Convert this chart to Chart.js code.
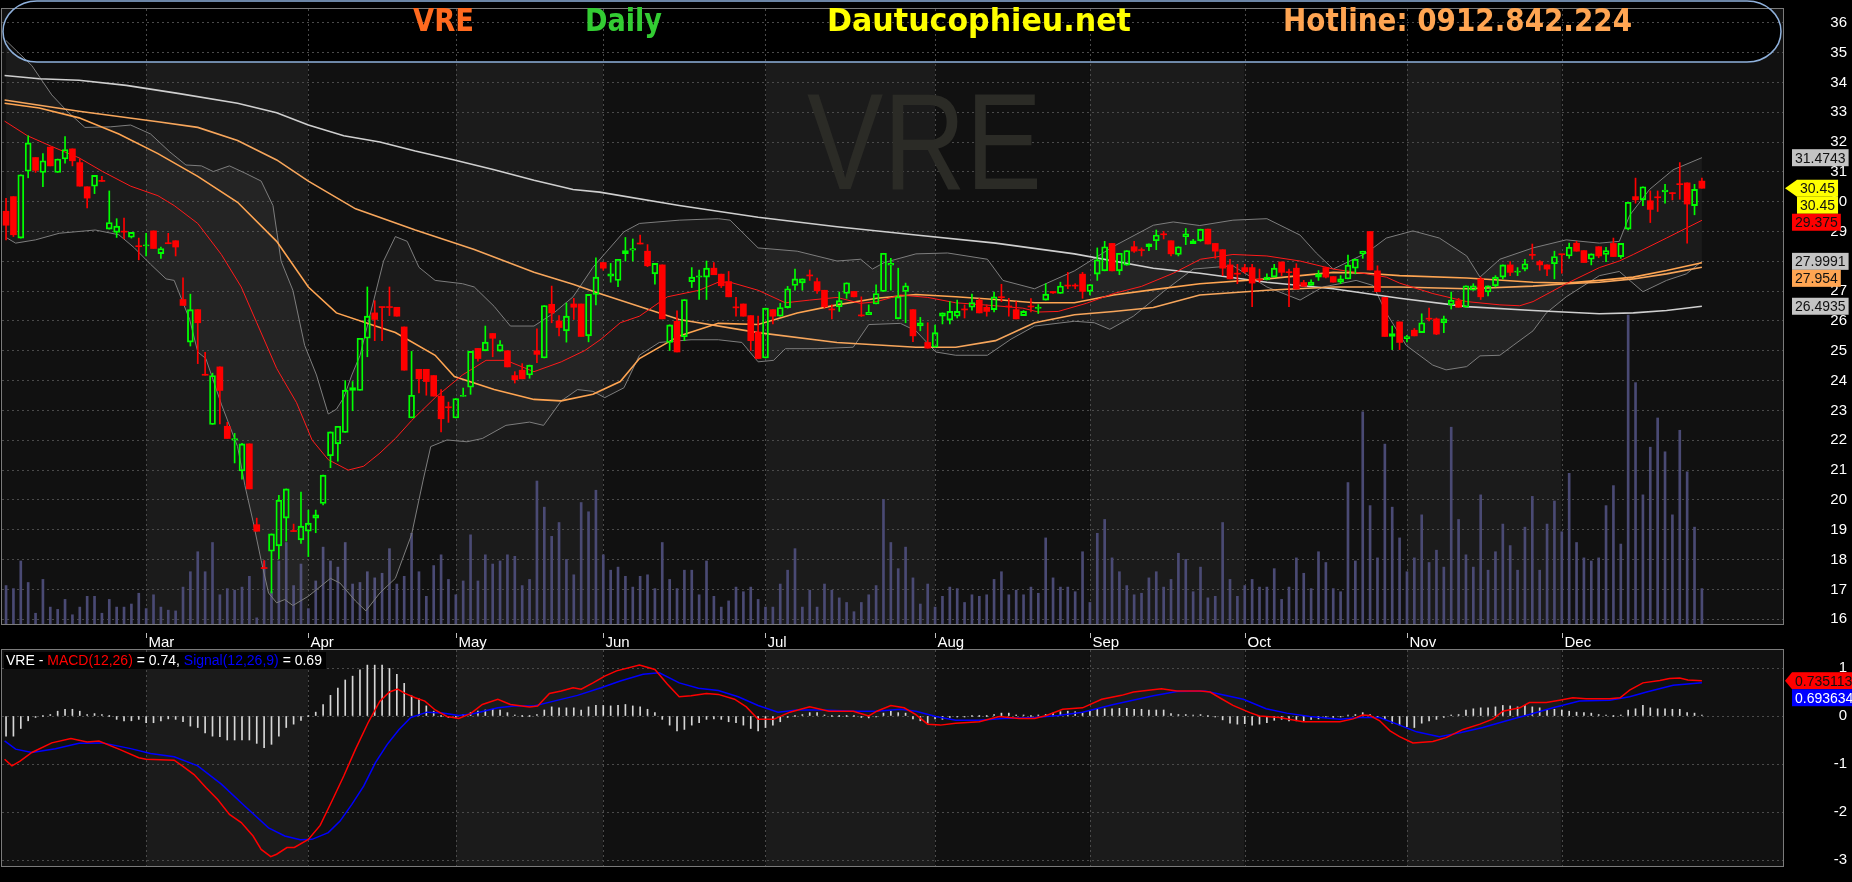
<!DOCTYPE html>
<html lang="vi">
<head>
<meta charset="UTF-8">
<meta name="viewport" content="width=device-width, initial-scale=1.0">
<title>VRE Daily</title>
<script src="https://cdn.jsdelivr.net/npm/chart.js"></script>
<style>
  html, body { margin: 0; padding: 0; background: #000; overflow: hidden; }
  #wrap { position: relative; width: 1852px; height: 882px; }
  canvas { position: absolute; left: 0; }
  #priceChart { top: 0; }
  #macdChart { top: 633px; }
</style>
</head>
<body>
<div id="wrap">
  <canvas id="priceChart" width="1852" height="633"></canvas>
  <canvas id="macdChart" width="1852" height="249"></canvas>
</div>
<script>
// VRE daily, Feb - Dec 2020. One entry per session, index 0 = first session shown.
const monthNames = ['Feb', 'Mar', 'Apr', 'May', 'Jun', 'Jul', 'Aug', 'Sep', 'Oct', 'Nov', 'Dec'];
const monthStart = [0, 19, 41, 61, 81, 103, 126, 147, 168, 190, 211];

const opens = [
  29.68,30.17,28.78,31.02,31.48,30.98,31.83,30.98,31.43,31.77,
  31.31,30.5,30.52,30.7,29.08,28.97,29.0,28.81,28.51,28.52,
  29.02,28.26,28.61,28.69,26.72,25.29,26.38,24.2,22.53,24.46,
  22.47,22.0,20.97,21.88,19.17,17.72,18.28,18.46,19.39,18.96,
  18.66,18.95,19.39,19.88,21.48,21.88,22.26,23.67,23.67,25.42,
  26.27,26.47,26.47,26.46,25.8,22.75,24.38,24.38,24.17,23.48,
  23.11,22.75,23.47,23.78,25.08,25.0,25.58,24.99,25.0,24.17,
  24.35,24.19,25.0,24.76,26.56,26.0,25.67,26.57,26.57,25.5,
  26.89,27.96,27.5,27.36,28.26,28.37,28.6,28.34,27.58,27.88,
  25.28,25.99,25.47,27.32,27.47,27.47,27.77,27.57,27.32,26.46,
  26.57,26.18,25.63,24.76,26.38,26.16,26.45,27.19,27.28,27.53,
  27.32,27.03,26.39,26.48,26.92,26.99,26.19,26.21,26.57,26.99,
  27.87,26.07,26.99,26.38,25.83,25.28,25.12,26.16,26.03,26.16,
  26.39,26.46,26.7,26.46,26.38,26.8,26.49,26.38,26.18,26.49,
  26.42,26.7,26.99,26.92,27.19,27.19,27.57,26.99,27.57,27.68,
  28.6,27.68,27.87,28.49,28.38,28.49,28.69,28.91,28.69,28.23,
  28.83,28.59,28.69,29.08,28.6,28.39,27.88,27.59,27.79,27.79,
  27.39,27.38,27.47,27.98,27.64,27.77,27.29,27.19,27.47,27.79,
  27.49,27.3,27.41,27.77,28.25,29.0,27.68,26.79,25.48,25.97,
  25.41,25.69,25.61,26.08,26.07,25.94,26.54,26.68,26.46,27.03,
  27.41,26.97,27.18,27.47,27.88,27.64,27.74,28.22,27.99,27.88,
  27.92,28.24,28.18,28.61,28.36,28.07,28.49,28.23,28.6,28.16,
  29.08,30.17,30.06,30.03,30.15,30.33,30.29,30.59,30.63,29.87,
  30.69
];
const highs = [
  30.11,30.17,30.9,32.21,31.48,31.61,31.83,31.43,32.18,31.77,
  31.44,30.5,30.88,30.85,30.36,29.43,29.45,28.97,28.78,28.94,
  29.02,28.48,28.94,28.69,27.45,26.9,26.38,24.95,24.25,24.46,
  22.6,22.23,21.9,21.88,19.39,17.97,18.86,20.15,20.37,19.19,
  20.26,19.66,19.66,20.83,22.28,22.47,24.0,23.97,25.42,27.14,
  26.68,26.47,27.14,26.46,25.8,24.98,24.38,24.38,24.17,23.7,
  23.28,23.4,23.75,24.98,25.08,25.83,25.58,25.34,25.0,24.3,
  24.57,24.52,25.74,26.52,27.17,26.18,26.6,26.76,26.57,26.89,
  28.12,27.96,27.93,28.07,28.8,28.75,28.88,28.56,27.93,27.88,
  25.87,26.34,26.72,27.79,27.71,28.01,27.96,27.57,27.66,26.79,
  26.57,26.18,26.16,26.43,26.38,26.59,27.16,27.74,27.41,27.71,
  27.44,27.03,26.54,26.97,27.28,26.99,26.81,26.54,27.21,28.27,
  28.1,27.77,27.27,26.38,26.12,25.94,25.86,26.27,26.65,26.7,
  26.54,26.9,26.75,26.54,26.97,27.23,26.76,26.65,26.35,26.75,
  26.55,27.25,26.99,27.3,27.63,27.25,27.63,27.22,28.45,28.67,
  28.6,28.27,28.36,28.67,28.45,28.59,29.05,29.0,28.69,28.49,
  29.1,28.74,29.08,29.08,28.6,28.39,28.07,27.9,27.9,27.9,
  27.74,27.58,27.9,27.98,27.74,27.92,27.36,27.38,27.69,27.81,
  27.49,27.52,28.21,28.07,28.34,29.0,27.85,26.79,25.83,25.97,
  25.52,25.75,26.24,26.43,26.1,26.16,26.97,26.76,27.18,27.25,
  27.47,27.18,27.52,27.88,27.99,27.79,28.07,28.58,28.03,27.88,
  28.34,28.24,28.61,28.67,28.36,28.25,28.49,28.47,28.78,28.6,
  29.98,30.79,30.5,30.36,30.36,30.58,30.3,31.31,30.63,30.58,
  30.79
];
const lows = [
  28.72,28.83,28.78,30.8,30.98,30.5,31.2,30.98,31.29,31.2,
  30.52,29.79,30.27,30.68,29.08,28.8,28.76,28.78,28.05,28.18,
  28.43,28.1,28.59,28.18,26.52,25.16,24.57,24.18,22.53,22.55,
  22.06,21.24,20.7,20.37,18.95,17.7,16.88,18.02,18.62,18.94,
  18.54,18.1,18.9,19.83,21.08,21.3,22.26,22.99,23.67,24.8,
  25.34,25.34,26.18,26.16,24.35,22.75,23.59,23.51,23.48,22.28,
  22.6,22.75,23.47,23.54,24.65,25.0,24.8,24.99,24.46,23.92,
  24.06,24.08,24.6,24.76,25.94,25.5,25.29,26.05,25.48,25.3,
  26.54,27.7,27.3,27.15,28.01,28.01,28.58,27.82,27.23,26.07,
  25.01,24.96,25.34,27.12,26.72,26.72,27.55,27.12,26.81,26.16,
  26.16,25.01,24.74,24.76,25.9,26.16,26.43,27.03,27.03,27.36,
  26.92,26.43,26.07,26.32,26.76,26.81,26.15,26.21,26.57,26.99,
  27.03,26.07,25.94,25.31,25.67,25.09,25.12,25.9,25.9,26.1,
  26.1,26.36,26.27,26.16,26.3,26.65,26.16,26.07,26.18,26.3,
  26.25,26.7,26.92,26.92,27.08,27.08,26.76,26.87,27.36,27.68,
  27.68,27.55,27.87,28.3,28.18,28.36,28.39,28.75,28.18,28.18,
  28.56,28.59,28.67,28.58,28.1,27.52,27.41,27.25,27.6,26.48,
  27.3,27.38,27.47,27.52,26.48,27.07,27.16,27.19,27.36,27.44,
  27.3,27.25,27.41,27.58,28.1,27.71,26.98,25.48,25.04,25.04,
  25.3,25.5,25.61,26.0,25.54,25.61,26.4,26.46,26.46,27.03,
  26.72,26.84,27.14,27.41,27.52,27.52,27.68,28.07,27.7,27.52,
  27.41,27.6,28.1,28.34,27.96,27.88,28.12,27.99,28.16,28.1,
  29.05,29.95,29.87,29.3,29.67,29.95,30.06,30.08,28.61,29.56,
  30.45
];
const closes = [
  29.21,28.89,30.9,31.97,31.05,31.37,31.2,31.43,31.75,31.37,
  30.52,30.12,30.88,30.68,29.3,29.18,28.98,28.97,28.49,28.54,
  28.43,28.43,28.59,28.48,26.52,26.38,25.94,24.18,24.17,23.67,
  22.06,22.06,21.88,20.37,18.95,17.7,18.86,19.99,20.37,18.94,
  19.12,19.22,19.5,20.83,22.28,22.47,23.68,23.77,25.42,26.16,
  26.05,26.45,26.45,26.16,24.35,23.51,24.06,23.97,23.48,22.72,
  23.09,23.4,23.51,24.98,24.74,25.29,25.42,25.21,24.46,24.03,
  24.06,24.52,24.88,26.52,26.27,25.78,26.16,26.46,25.48,26.89,
  27.47,27.77,27.58,28.07,28.36,28.43,28.58,27.85,27.93,26.07,
  25.87,24.96,26.72,27.47,27.51,27.77,27.55,27.18,26.81,26.44,
  26.16,25.34,24.74,26.43,26.16,26.45,27.08,27.41,27.41,27.51,
  27.01,26.48,26.37,26.68,27.28,26.81,26.17,26.29,26.92,28.27,
  27.93,26.81,27.18,25.5,25.94,25.09,25.61,26.27,26.32,26.32,
  26.37,26.62,26.27,26.32,26.81,26.78,26.47,26.07,26.32,26.47,
  26.46,26.9,26.94,27.17,27.17,27.17,26.99,27.22,28.05,28.49,
  27.68,28.27,28.36,28.34,28.36,28.59,28.88,28.89,28.25,28.49,
  28.92,28.69,29.08,28.58,28.34,27.77,27.41,27.57,27.65,27.27,
  27.37,27.47,27.77,27.63,27.62,27.07,27.16,27.3,27.58,27.47,
  27.3,27.41,27.87,28.07,28.34,27.71,26.98,25.48,25.58,25.28,
  25.48,25.5,25.94,26.06,25.56,26.07,26.7,26.46,27.18,27.18,
  26.81,27.18,27.47,27.88,27.63,27.66,27.92,28.2,27.88,27.74,
  28.16,28.22,28.47,28.34,27.96,28.25,28.18,28.36,28.16,28.6,
  29.98,30.06,30.5,29.74,30.13,30.39,30.27,30.57,29.92,30.41,
  30.45
];
// volume, million shares
const volumes = [
  2.5,2.3,4.1,2.7,0.7,2.9,1.1,0.95,1.6,0.6,
  1.1,1.8,1.8,0.7,1.6,1.1,1.1,1.3,2.0,1.0,
  1.9,1.1,0.9,0.85,2.4,3.4,4.7,3.4,5.3,1.9,
  2.3,2.2,2.4,3.1,0.4,4.1,2.1,4.1,5.3,2.5,
  3.9,1.0,2.8,5.0,4.1,3.7,5.3,2.6,2.7,3.4,
  3.0,3.3,4.9,2.6,3.1,5.9,3.4,1.8,3.8,4.5,
  2.9,1.9,2.8,5.8,2.8,4.5,3.9,4.1,4.5,4.4,
  2.5,2.9,9.3,7.6,5.7,6.6,4.2,3.2,7.9,7.3,
  8.7,4.5,3.5,3.7,3.1,2.4,3.1,3.2,2.3,5.3,
  2.9,2.3,3.5,3.5,1.9,4.1,1.8,1.1,1.5,2.4,
  2.1,2.4,1.6,1.1,1.1,2.6,3.5,4.9,1.1,2.2,
  1.1,2.6,2.2,1.7,1.4,0.8,1.4,1.9,2.5,8.1,
  5.3,3.6,5.0,3.0,1.3,2.6,1.1,1.8,2.4,2.3,
  1.4,1.9,1.8,1.9,2.9,3.4,1.9,2.2,1.9,2.4,
  2.0,5.6,3.0,2.4,2.4,2.1,4.7,1.4,5.9,6.8,
  4.3,3.4,2.5,1.9,2.0,3.0,3.4,2.4,2.9,4.6,
  4.2,2.1,3.7,1.7,1.8,6.6,2.9,1.8,2.5,2.9,
  2.4,2.4,3.6,1.6,2.4,4.3,3.3,2.3,4.7,4.0,
  2.3,2.1,9.2,4.1,13.8,7.7,4.3,11.7,7.6,5.6,
  3.4,4.3,7.1,4.0,4.8,3.7,12.8,6.8,4.5,3.7,
  8.4,3.5,4.7,6.5,5.1,3.5,6.3,8.3,3.5,6.5,
  8.0,6.0,9.8,5.3,4.3,4.1,4.3,7.7,9.0,5.2,
  20.1,15.7,8.4,11.5,13.4,11.2,7.1,12.6,9.9,6.3,
  2.3
];
const macdHist = [
  -0.42,-0.42,-0.26,-0.1,-0.03,0,0.03,0.1,0.14,0.14,
  0.1,0.03,0.05,0.03,0,-0.07,-0.1,-0.1,-0.07,-0.14,
  -0.14,-0.1,-0.06,-0.07,-0.12,-0.21,-0.24,-0.35,-0.42,-0.43,
  -0.5,-0.5,-0.5,-0.5,-0.57,-0.66,-0.59,-0.42,-0.24,-0.17,
  -0.09,0,0.08,0.24,0.43,0.58,0.75,0.83,0.96,1.06,
  1.06,1.06,0.99,0.87,0.68,0.42,0.36,0.21,0.1,0,
  -0.03,-0.03,0.03,0.07,0.1,0.125,0.14,0.125,0.07,0.02,
  0,0,0.03,0.125,0.19,0.17,0.17,0.17,0.125,0.19,
  0.22,0.22,0.21,0.22,0.24,0.21,0.19,0.14,0.07,-0.07,
  -0.19,-0.31,-0.28,-0.19,-0.14,-0.07,-0.06,-0.07,-0.12,-0.14,
  -0.19,-0.26,-0.31,-0.24,-0.19,-0.12,-0.03,0,0.03,0.07,
  0.07,0.01,0,0,0,0,-0.03,-0.04,-0.01,0.06,
  0.1,0.07,0.06,-0.06,-0.1,-0.15,-0.06,-0.07,-0.03,-0.01,
  -0.01,0,0,0,0.03,0.06,0.06,0.01,0.01,0,
  0.01,0.03,0.06,0.09,0.1,0.09,0.07,0.1,0.14,0.15,
  0.15,0.16,0.16,0.14,0.14,0.125,0.125,0.125,0.05,0.03,
  0.03,0.01,0.03,0,-0.01,-0.08,-0.15,-0.17,-0.16,-0.19,
  -0.17,-0.14,-0.09,-0.07,-0.1,-0.1,-0.1,-0.07,-0.06,-0.03,
  -0.03,-0.01,0.01,0.03,0.07,0.03,-0.01,-0.07,-0.15,-0.19,
  -0.22,-0.24,-0.15,-0.1,-0.07,-0.03,0.01,0.03,0.125,0.15,
  0.17,0.17,0.19,0.22,0.21,0.19,0.22,0.19,0.17,0.14,
  0.14,0.125,0.1,0.08,0.07,0.06,0.03,0.01,0,0.01,
  0.125,0.15,0.22,0.17,0.15,0.15,0.14,0.14,0.07,0.06,
  0.02
];

// indicator lines read as [session index, value]
const ma20 = [[-0.2,32.7],[2.9,32.21],[6.2,31.85],[9.9,31.47],[13.1,31.01],[16.9,30.52],[20.6,30.2],[22.8,29.87],[26,29.27],[29.2,28.23],[31.9,27.14],[34,25.94],[36.7,24.41],[39.4,23.26],[41.5,22.01],[43.7,21.35],[46.4,21],[48.5,21.13],[50.7,21.57],[52.8,22.06],[55,22.66],[58.2,23.43],[61.9,24.19],[65.1,24.68],[67.8,24.68],[71.6,24.3],[75.3,24.63],[78.5,25.01],[80.7,25.39],[83.3,25.94],[85.9,26.16],[89.7,26.81],[94,27.03],[96.6,27.3],[98.2,27.3],[102,27.03],[105.7,26.61],[109,26.7],[112.7,26.79],[115.9,26.59],[118.1,26.65],[121.3,26.87],[125,26.79],[128.8,26.61],[134.2,26.51],[137.9,26.43],[140,26.3],[142.7,26.32],[146.5,26.59],[150.2,26.92],[154,27.16],[158.3,27.6],[162,28.07],[166.4,28.23],[171,28.18],[175.5,28.01],[180,27.74],[184.5,27.58],[187.2,27.47],[189,27.27],[193.5,26.92],[198.1,26.65],[202.6,26.54],[205.3,26.51],[207.1,26.65],[211.6,27.25],[216.1,27.79],[218.8,28.01],[220.7,28.23],[225.2,28.78],[230,29.375]];
const bbUpper = [[0,35.4],[3.5,34.56],[6.2,33.58],[8.3,33.03],[10.7,32.49],[14.2,32.51],[16.9,32.57],[19.6,32.27],[22.2,31.67],[24.4,31.23],[26.5,31.2],[28.1,31.01],[30.3,31.2],[32.4,30.96],[34.6,30.69],[36.2,29.87],[37.3,28.01],[38.9,27.03],[40.5,25.18],[42.1,24.19],[43.7,22.88],[44.8,23.04],[45.8,23.43],[46.9,24.19],[48,24.84],[49.1,25.94],[51.2,28.01],[52.8,28.83],[54.4,28.67],[56,27.8],[58.2,27.36],[61.9,27.25],[63.5,27.14],[66.2,26.49],[68.4,25.83],[71.6,25.83],[74.3,26.27],[76.9,26.81],[79.6,27.8],[83.8,28.99],[85.9,29.27],[91.3,29.38],[96.6,29.43],[98.2,29.38],[102,28.45],[107.3,28.34],[112.7,28.01],[115.9,28.07],[117.5,27.74],[119.1,27.96],[123.4,28.25],[127.7,28.28],[133.1,28.07],[135.2,27.36],[139.5,27.08],[144.9,27.68],[150.2,28.5],[155.6,29.21],[158.3,29.32],[161.9,29.2],[166.4,29.38],[171,29.43],[175.5,28.88],[177.7,28.28],[180,27.74],[184.5,28.28],[187.2,28.78],[190.8,29.02],[194.4,28.78],[198.1,28.18],[199.9,27.47],[202.6,28.07],[207.1,28.45],[211.6,28.72],[216.1,28.61],[218.8,28.67],[220.2,29.54],[222.9,30.41],[226.1,31.07],[230,31.4743]];
const bbLower = [[0,28.8],[1.3,28.61],[4,28.72],[7.2,28.94],[12.1,29.05],[15.3,28.89],[17.4,28.45],[19.6,27.9],[21.7,27.41],[22.8,27.36],[24.9,26.05],[26,24.96],[27.1,24.74],[29.2,23.21],[31.4,21.79],[32.4,20.48],[33.5,19.28],[34.6,17.97],[35.6,16.88],[36.7,16.55],[37.8,16.66],[38.9,16.46],[41,16.77],[42.1,16.99],[44,17.37],[45.3,17.21],[47.4,16.61],[48.8,16.28],[50.7,16.88],[52.8,17.37],[55,18.84],[56.6,20.7],[57.6,21.79],[59.8,22.01],[62.5,21.95],[64.6,22.06],[67.8,22.5],[71,22.61],[72.9,22.5],[75.3,23.32],[77.5,23.7],[79.6,23.64],[81.2,23.43],[83.8,23.76],[85.9,24.85],[88.6,25.28],[92.9,25.37],[96.6,25.37],[99.8,25.28],[102,24.63],[104.1,24.68],[105.7,25.07],[110,25.07],[114.9,25.12],[117,25.88],[121.3,25.92],[123.4,25.67],[126.1,24.96],[128.8,24.85],[133.1,24.85],[136.3,25.39],[139.5,25.83],[144.9,25.99],[147.6,25.94],[149.7,25.72],[152.9,26.16],[157.2,27.03],[161,27.74],[166.4,27.85],[171,27.14],[175.5,26.7],[178.6,27.14],[180.9,27.25],[183.1,27.36],[185.4,27.19],[187.2,26.27],[189.9,25.18],[193.5,24.52],[195.3,24.36],[198.1,24.47],[199.9,24.83],[202.6,24.85],[204.4,25.18],[207.1,25.67],[208.9,26.27],[211.6,26.81],[216.1,27.52],[218.8,27.66],[222,26.98],[225.2,27.36],[227.9,27.58],[230,27.9991]];
const ma50 = [[-0.2,33.3],[4.5,33.14],[9.9,32.81],[15.3,32.27],[20.6,31.61],[26,30.85],[31.4,29.98],[36.7,28.67],[41,27.14],[44.8,26.27],[50.1,25.83],[52.8,25.61],[58.2,24.85],[60.8,24.14],[66.2,23.7],[71.6,23.37],[75.3,23.32],[79.6,23.54],[83.3,23.97],[85.9,24.74],[91.3,25.5],[96.6,25.92],[102,25.88],[107.3,26.27],[112.7,26.54],[118.1,26.76],[123.4,26.89],[128.8,26.81],[134.2,26.72],[139.5,26.61],[144.9,26.61],[150.2,26.87],[155.6,27.05],[161.9,27.25],[171,27.41],[180,27.63],[184.5,27.6],[189,27.52],[198.1,27.44],[207.1,27.3],[211.6,27.27],[216.1,27.36],[220.7,27.47],[225.2,27.69],[230,27.954]];
const ma100 = [[-0.2,33.41],[9.9,33.03],[20.6,32.68],[26,32.49],[31.4,32.05],[36.7,31.4],[41,30.69],[47.4,29.76],[55.5,29.05],[63.5,28.4],[71.6,27.63],[76.9,27.23],[80.5,26.92],[91.3,26.05],[102,25.61],[112.7,25.28],[123.4,25.12],[128.8,25.12],[134.2,25.34],[139.5,25.94],[144.9,26.21],[150.2,26.32],[155.6,26.45],[161.9,26.87],[171,27.03],[180,27.14],[189,27.14],[198.1,27.08],[207.1,27.17],[211.6,27.25],[216.1,27.3],[220.7,27.41],[225.2,27.58],[230,27.8]];
const ma200 = [[-0.2,34.23],[4.5,34.12],[9.9,34.07],[16.3,33.9],[23.3,33.63],[31.4,33.3],[36.7,32.98],[41,32.57],[45.8,32.21],[50.7,32],[55.5,31.7],[60.8,31.4],[66.2,31.07],[71.6,30.72],[76.9,30.41],[80.5,30.32],[91.3,29.87],[102,29.48],[112.7,29.16],[123.4,28.88],[134.2,28.61],[144.9,28.25],[155.6,27.77],[161.9,27.6],[171,27.3],[180,27.08],[189,26.76],[198.1,26.48],[207.1,26.35],[216.1,26.24],[220.7,26.27],[225.2,26.35],[230,26.4935]];
const macdLine = [[-0.2,-0.9],[0.8,-1.04],[1.9,-0.94],[3.5,-0.76],[6.2,-0.56],[8.8,-0.47],[11,-0.54],[12.6,-0.52],[15.3,-0.69],[18,-0.87],[19,-0.9],[22.8,-0.92],[23.9,-1.04],[25.5,-1.22],[27.1,-1.49],[28.7,-1.74],[30.3,-2.05],[31.9,-2.22],[33.5,-2.5],[34.6,-2.78],[35.9,-2.93],[36.7,-2.88],[38.1,-2.74],[39.1,-2.74],[41,-2.57],[42.6,-2.28],[44.2,-1.77],[45.8,-1.25],[47.4,-0.69],[49.1,-0.14],[50.7,0.31],[52,0.5],[53.1,0.56],[54.1,0.47],[55.5,0.38],[56.8,0.31],[58.2,0.125],[59.8,-0.01],[61.4,-0.05],[63,0.05],[64.6,0.24],[66.7,0.35],[68.4,0.24],[71,0.19],[72.1,0.21],[73.7,0.47],[75.3,0.52],[76.9,0.59],[78,0.56],[79.6,0.69],[81.2,0.83],[82.8,0.94],[85.9,1.06],[88,0.97],[89.7,0.66],[91.3,0.4],[92.9,0.42],[95,0.47],[96.6,0.45],[98.8,0.35],[100.4,0.19],[102,-0.07],[104.1,-0.07],[106.3,0.08],[109,0.19],[111.6,0.1],[114.9,0.1],[117,0],[118.1,0.1],[120,0.22],[121.8,0.17],[123.4,0.03],[125,-0.17],[126.7,-0.19],[128.8,-0.15],[132,-0.12],[134.7,-0.01],[137.4,-0.05],[139.5,-0.05],[141.1,0.01],[143.3,0.14],[146,0.17],[148.6,0.35],[151.3,0.43],[152.9,0.5],[156.7,0.57],[158.8,0.52],[162,0.52],[163.3,0.5],[164.6,0.38],[166.4,0.22],[168.7,0.07],[170,0],[172.7,-0.03],[175.9,-0.12],[180.9,-0.12],[182.7,-0.06],[184,0.02],[185,0.01],[186.3,-0.1],[187.7,-0.31],[189,-0.43],[190.8,-0.56],[193.5,-0.53],[195.3,-0.45],[197.6,-0.28],[199.9,-0.17],[201.7,-0.06],[203,0.1],[205.3,0.17],[206.6,0.28],[208.9,0.28],[210.7,0.33],[212.5,0.38],[214.3,0.36],[217.5,0.36],[218.9,0.38],[220.2,0.54],[222,0.69],[224.3,0.74],[225.6,0.78],[227,0.79],[228.1,0.75],[230,0.735]];
const signalLine = [[-0.2,-0.52],[1.3,-0.69],[3.5,-0.76],[6.7,-0.68],[9.9,-0.57],[13.1,-0.56],[16.9,-0.68],[19.6,-0.78],[22.8,-0.85],[26,-1.04],[29.2,-1.42],[32.4,-1.88],[35.6,-2.33],[37.8,-2.5],[39.9,-2.58],[41.5,-2.57],[43.7,-2.43],[45.3,-2.19],[46.9,-1.84],[48.5,-1.46],[50.1,-0.97],[51.7,-0.59],[53.3,-0.28],[54.9,-0.03],[57.1,0.08],[59.2,0.06],[61.4,0.01],[63.5,0.05],[66.7,0.17],[68.9,0.21],[71.6,0.21],[74.3,0.31],[77.5,0.43],[80.7,0.59],[83.3,0.73],[86.4,0.87],[88.6,0.9],[91.3,0.69],[93.9,0.58],[96.6,0.53],[99.3,0.4],[102,0.22],[104.7,0.08],[107.3,0.125],[110.6,0.125],[115.4,0.1],[118.1,0.1],[121.3,0.14],[123.4,0.1],[126.1,-0.01],[128.8,-0.09],[132,-0.09],[135.2,-0.05],[139.5,-0.03],[142.7,0.01],[146,0.08],[150.2,0.24],[155.6,0.42],[158.8,0.51],[162.6,0.52],[164.2,0.47],[167.8,0.35],[170.9,0.15],[173.7,0.06],[176.8,-0.01],[180.9,-0.07],[183.6,-0.03],[186.3,-0.03],[189,-0.19],[191.3,-0.33],[194.4,-0.43],[197.2,-0.35],[200.3,-0.24],[203.5,-0.1],[206.6,0.03],[209.8,0.17],[213.4,0.31],[217.5,0.33],[220.2,0.4],[222.5,0.5],[226.1,0.64],[230,0.694]];

const priceTicks = [16,17,18,19,20,21,22,23,24,25,26,27,28,29,30,31,32,33,34,35,36];
const macdTicks = [1, 0, -1, -2, -3];
const priceTagValues = [31.4743, 30.45, 30.45, 29.375, 27.9991, 27.954, 26.4935];
const macdTagValues = [0.735113, 0.693634];

// ---- styling ----
const X_MIN = -0.55, X_MAX = 241;
const FONT = '"Liberation Sans", Arial, sans-serif';
const priceTagStyle = [
  {bg: '#c4c4c4', fg: '#111'},
  {bg: '#ffff00', fg: '#111', arrow: 12, inset: 5},
  {bg: '#ffff00', fg: '#111', inset: 5},
  {bg: '#ff0000', fg: '#111'},
  {bg: '#c4c4c4', fg: '#111'},
  {bg: '#ffa552', fg: '#111'},
  {bg: '#c4c4c4', fg: '#111'}
];
const macdTagStyle = [
  {bg: '#ff0000', fg: '#111', arrow: 7},
  {bg: '#0000ff', fg: '#fff'}
];
const header = [
  {text: 'VRE', x: 413, w: 61, color: '#ff6a1f'},
  {text: 'Daily', x: 585, w: 77, color: '#33cc33'},
  {text: 'Dautucophieu.net', x: 827, w: 304, color: '#ffff00'},
  {text: 'Hotline: 0912.842.224', x: 1283, w: 349, color: '#ffa552'}
];
const macdTitle = [['VRE - ', '#ffffff'], ['MACD(12,26)', '#ff0000'], [' = 0.74, ', '#ffffff'],
                   ['Signal(12,26,9)', '#0000ff'], [' = 0.69', '#ffffff']];

const pts = arr => arr.map(([x, y]) => ({x, y}));
const isUp = closes.map((c, i) => c >= opens[i]);
const candleColor = isUp.map(u => u ? '#00ff00' : '#ff0000');

function monthBounds(area, x) {
  return monthStart.map((i, k) => k === 0 ? area.left : x.getPixelForValue(i));
}

function drawBackground(chart) {
  const {ctx, chartArea: a, scales: {x}} = chart;
  ctx.fillStyle = '#000';
  ctx.fillRect(0, 0, chart.width, chart.height);
  const b = monthBounds(a, x);
  b.forEach((x0, k) => {
    const x1 = k + 1 < b.length ? b[k + 1] : a.right;
    ctx.fillStyle = k % 2 ? '#1b1b1b' : '#111111';
    ctx.fillRect(x0, a.top, x1 - x0, a.bottom - a.top);
  });
}

function drawMonthLines(chart) {
  const {ctx, chartArea: a, scales: {x}} = chart;
  const b = monthBounds(a, x);
  ctx.save();
  ctx.strokeStyle = '#4a4a4a';
  ctx.lineWidth = 1;
  ctx.setLineDash([2, 3]);
  b.slice(1).forEach(px => {
    const xx = Math.round(px) + 0.5;
    ctx.beginPath();
    ctx.moveTo(xx, a.top);
    ctx.lineTo(xx, a.bottom);
    ctx.stroke();
  });
  ctx.restore();
}

function drawBorder(chart) {
  const {ctx, chartArea: a} = chart;
  ctx.save();
  ctx.strokeStyle = '#7b7b7b';
  ctx.lineWidth = 1;
  ctx.strokeRect(a.left - 0.5, a.top - 0.5, a.right - a.left + 1, a.bottom - a.top + 1);
  ctx.restore();
}

function drawTags(ctx, yScale, values, styles) {
  const h = 17, left = 1792;
  let prevBottom = -Infinity;
  ctx.save();
  ctx.font = '14px ' + FONT;
  ctx.textBaseline = 'middle';
  values.forEach((v, k) => {
    const s = styles[k];
    const label = String(v);
    let yc = yScale.getPixelForValue(v);
    if (yc - h / 2 < prevBottom) yc = prevBottom + h / 2;
    const top = yc - h / 2;
    const x0 = left + (s.inset || 0);
    const w = ctx.measureText(label).width + 6;
    ctx.fillStyle = s.bg;
    ctx.fillRect(x0, top, w, h);
    if (s.arrow) {
      ctx.beginPath();
      ctx.moveTo(x0, top);
      ctx.lineTo(x0 - s.arrow, yc);
      ctx.lineTo(x0, top + h);
      ctx.closePath();
      ctx.fill();
    }
    ctx.fillStyle = s.fg;
    ctx.fillText(label, x0 + 3, yc + 1);
    prevBottom = top + h;
  });
  ctx.restore();
}

function pillPath(ctx, x0, y0, x1, y1, rx) {
  const ry = (y1 - y0) / 2, cy = (y0 + y1) / 2;
  ctx.beginPath();
  ctx.moveTo(x0 + rx, y0);
  ctx.lineTo(x1 - rx, y0);
  ctx.ellipse(x1 - rx, cy, rx, ry, 0, -Math.PI / 2, Math.PI / 2);
  ctx.lineTo(x0 + rx, y1);
  ctx.ellipse(x0 + rx, cy, rx, ry, 0, Math.PI / 2, Math.PI * 1.5);
  ctx.closePath();
}

function fitText(ctx, text, x, y, width) {
  const w = ctx.measureText(text).width;
  ctx.save();
  ctx.translate(x, y);
  ctx.scale(width / w, 1);
  ctx.fillText(text, 0, 0);
  ctx.restore();
}

const pricePanel = {
  id: 'pricePanel',
  beforeDraw(chart) {
    const ctx = chart.ctx;
    ctx.save();
    drawBackground(chart);
    pillPath(ctx, 3, 1, 1781, 62, 34);
    ctx.fillStyle = '#000';
    ctx.fill();
    ctx.restore();
    drawMonthLines(chart);
  },
  beforeDatasetsDraw(chart) {
    const ctx = chart.ctx;
    ctx.save();
    ctx.font = '138px ' + FONT;
    ctx.fillStyle = '#2b2b26';
    ctx.textBaseline = 'alphabetic';
    fitText(ctx, 'VRE', 807, 189, 235);
    ctx.restore();
  },
  afterDraw(chart) {
    const ctx = chart.ctx;
    drawBorder(chart);
    ctx.save();
    pillPath(ctx, 3, 1, 1781, 62, 34);
    ctx.strokeStyle = '#8fb1dc';
    ctx.lineWidth = 1.5;
    ctx.stroke();
    ctx.font = 'bold 32px "DejaVu Sans Condensed", "DejaVu Sans", sans-serif';
    ctx.textBaseline = 'alphabetic';
    header.forEach(h => {
      ctx.fillStyle = h.color;
      fitText(ctx, h.text, h.x, 31, h.w);
    });
    ctx.restore();
    drawTags(ctx, chart.scales.y, priceTagValues, priceTagStyle);
  }
};

const macdPanel = {
  id: 'macdPanel',
  beforeDraw(chart) {
    chart.ctx.save();
    drawBackground(chart);
    chart.ctx.restore();
    drawMonthLines(chart);
  },
  afterDraw(chart) {
    const {ctx, chartArea: a, scales: {x, y}} = chart;
    drawBorder(chart);
    ctx.save();
    // month labels in the strip above the panel
    const b = monthBounds(a, x);
    ctx.font = '15px ' + FONT;
    ctx.textBaseline = 'alphabetic';
    ctx.strokeStyle = '#c0c0c0';
    ctx.lineWidth = 1;
    b.forEach((px, k) => {
      if (k === 0) return;
      const xx = Math.round(px) + 0.5;
      ctx.beginPath();
      ctx.moveTo(xx, 0);
      ctx.lineTo(xx, 5);
      ctx.stroke();
      ctx.fillStyle = '#ffffff';
      ctx.fillText(monthNames[k], xx + 2, 14);
    });
    // indicator title
    ctx.font = '14px ' + FONT;
    ctx.textBaseline = 'middle';
    const total = macdTitle.reduce((s, [t]) => s + ctx.measureText(t).width, 0);
    ctx.fillStyle = '#000';
    ctx.fillRect(a.left + 2, a.top + 2, total + 6, 17);
    let tx = a.left + 4;
    macdTitle.forEach(([t, c]) => {
      ctx.fillStyle = c;
      ctx.fillText(t, tx, a.top + 11);
      tx += ctx.measureText(t).width;
    });
    ctx.restore();
    drawTags(ctx, y, macdTagValues, macdTagStyle);
  }
};

function rightAxis(min, max, ticks) {
  return {
    position: 'right',
    min: min,
    max: max,
    afterBuildTicks: s => { s.ticks = ticks.map(v => ({value: v})); },
    afterFit: s => { s.width = 64; },
    grid: { color: '#4a4a4a', lineWidth: 1, drawTicks: false },
    border: { display: false, dash: [2, 3] },
    ticks: { color: '#ffffff', font: { family: FONT, size: 15 }, crossAlign: 'far', padding: 0, autoSkip: false }
  };
}

const xAxis = { type: 'linear', min: X_MIN, max: X_MAX, offset: false, display: false };

const common = {
  responsive: false,
  animation: false,
  events: [],
  elements: { point: { radius: 0 }, line: { tension: 0 } },
  plugins: { legend: { display: false }, tooltip: { enabled: false } }
};

new Chart(document.getElementById('priceChart'), {
  type: 'bar',
  data: {
    datasets: [
      { label: 'Body', data: opens.map((o, i) => ({x: i, y: [o, closes[i]]})),
        backgroundColor: isUp.map(u => u ? 'rgba(0,0,0,0)' : '#ff0000'),
        borderColor: candleColor, borderWidth: isUp.map(u => u ? 1.2 : 0),
        borderSkipped: false, barThickness: 6, minBarLength: 1, grouped: false, order: 1 },
      { label: 'Wick high', data: highs.map((h, i) => ({x: i, y: [Math.max(opens[i], closes[i]), h]})),
        backgroundColor: candleColor, barThickness: 1, grouped: false, order: 2 },
      { label: 'Wick low', data: lows.map((l, i) => ({x: i, y: [l, Math.min(opens[i], closes[i])]})),
        backgroundColor: candleColor, barThickness: 1, grouped: false, order: 2 },
      { type: 'line', label: 'MA20', data: pts(ma20), borderColor: '#ff1a1a', borderWidth: 1, order: 3 },
      { type: 'line', label: 'MA50', data: pts(ma50), borderColor: '#ffa552', borderWidth: 1.6, order: 4 },
      { type: 'line', label: 'MA100', data: pts(ma100), borderColor: '#f7a65c', borderWidth: 1.6, order: 4 },
      { type: 'line', label: 'MA200', data: pts(ma200), borderColor: '#cfcfcf', borderWidth: 1.6, order: 5 },
      { type: 'line', label: 'BB upper', data: pts(bbUpper), borderColor: '#7d7d7d', borderWidth: 1, order: 6 },
      { type: 'line', label: 'BB lower', data: pts(bbLower), borderColor: '#7d7d7d', borderWidth: 1,
        fill: '-1', backgroundColor: 'rgba(255,255,255,0.045)', order: 6 },
      { label: 'Volume', data: volumes.map((v, i) => ({x: i, y: v})), yAxisID: 'yVol',
        backgroundColor: '#4a4a74', barThickness: 2, grouped: false, order: 7 }
    ]
  },
  options: Object.assign({}, common, {
    layout: { padding: { left: 2, top: 2, right: 5, bottom: 1 } },
    scales: {
      x: xAxis,
      y: rightAxis(15.84, 36.46, priceTicks),
      yVol: { type: 'linear', axis: 'y', display: false, min: 0, max: 40 }
    }
  }),
  plugins: [pricePanel]
});

new Chart(document.getElementById('macdChart'), {
  type: 'bar',
  data: {
    datasets: [
      { type: 'line', label: 'MACD', data: pts(macdLine), borderColor: '#ff0000', borderWidth: 1.5, order: 1 },
      { type: 'line', label: 'Signal', data: pts(signalLine), borderColor: '#0000ff', borderWidth: 1.5, order: 2 },
      { label: 'Histogram', data: macdHist.map((v, i) => ({x: i, y: v})),
        backgroundColor: '#d6d6d6', barThickness: 1, minBarLength: 1, grouped: false, order: 3 }
    ]
  },
  options: Object.assign({}, common, {
    layout: { padding: { left: 2, top: 17, right: 5, bottom: 16 } },
    scales: {
      x: xAxis,
      y: rightAxis(-3.125, 1.375, macdTicks)
    }
  }),
  plugins: [macdPanel]
});
</script>
</body>
</html>
